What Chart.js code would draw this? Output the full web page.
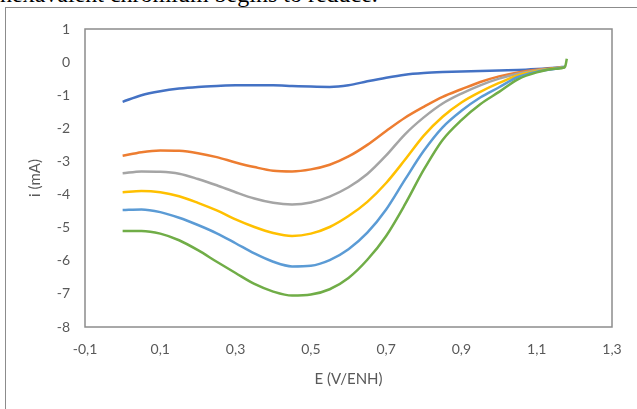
<!DOCTYPE html>
<html>
<head>
<meta charset="utf-8">
<script src="https://cdn.jsdelivr.net/npm/chart.js@4/dist/chart.umd.min.js"></script>
<style>
    body { margin: 0; background: #fff; overflow: hidden; }
    #wrap { position: relative; width: 637px; height: 409px; overflow: hidden; }
    #caption {
        position: absolute; left: 0px; top: -18px;
        font-family: "Liberation Serif", serif; font-size: 24px; line-height: 24px;
        color: #000; white-space: nowrap;
    }
    #frame {
        position: absolute; left: 5px; top: 7px; width: 700px; height: 500px;
        border: 1px solid #8c8c8c;
    }
    canvas { position: absolute; left: 0; top: 0; }
</style>
</head>
<body>
<div id="wrap">
    <div id="caption">hexavalent chromium begins to reduce.</div>
    <div id="frame"></div>
    <canvas id="chart" width="637" height="409"></canvas>
</div>
<script>
// Potential (V/ENH)
const potentials = [0, 0.05, 0.1, 0.15, 0.2, 0.25, 0.3, 0.35, 0.4, 0.45, 0.5, 0.55, 0.6,
    0.65, 0.7, 0.75, 0.8, 0.85, 0.9, 0.95, 1.0, 1.05, 1.1, 1.15, 1.175, 1.18];

// Current (mA) for each curve
const blueCurve = [-1.2, -1.0, -0.88, -0.8, -0.75, -0.72, -0.7, -0.7, -0.7, -0.72, -0.74, -0.75, -0.7,
    -0.58, -0.47, -0.38, -0.33, -0.3, -0.28, -0.27, -0.25, -0.24, -0.21, -0.17, -0.14];
const orangeCurve = [-2.83, -2.72, -2.67, -2.68, -2.75, -2.87, -3.03, -3.17, -3.28, -3.3, -3.24, -3.1, -2.85,
    -2.5, -2.08, -1.68, -1.35, -1.05, -0.82, -0.6, -0.43, -0.31, -0.23, -0.18, -0.15];
const grayCurve = [-3.36, -3.3, -3.31, -3.37, -3.53, -3.72, -3.93, -4.12, -4.25, -4.3, -4.24, -4.06, -3.78,
    -3.38, -2.82, -2.18, -1.67, -1.25, -0.95, -0.7, -0.5, -0.35, -0.25, -0.19, -0.15];
const yellowCurve = [-3.93, -3.89, -3.93, -4.05, -4.25, -4.48, -4.75, -4.98, -5.16, -5.25, -5.18, -4.98, -4.65,
    -4.22, -3.65, -2.95, -2.22, -1.65, -1.22, -0.9, -0.63, -0.4, -0.27, -0.19, -0.15];
const lightBlueCurve = [-4.47, -4.45, -4.53, -4.7, -4.92, -5.17, -5.47, -5.78, -6.03, -6.17, -6.15, -5.98, -5.65,
    -5.15, -4.45, -3.55, -2.68, -1.97, -1.47, -1.07, -0.76, -0.45, -0.29, -0.2, -0.15];
const greenCurve = [-5.1, -5.1, -5.18, -5.38, -5.68, -6.03, -6.37, -6.7, -6.93, -7.05, -7.02, -6.86, -6.52,
    -5.97, -5.25, -4.3, -3.25, -2.35, -1.75, -1.27, -0.9, -0.52, -0.31, -0.2, -0.15, 0.1];

// Axis ticks
const xTicks = [-0.1, 0.1, 0.3, 0.5, 0.7, 0.9, 1.1, 1.3];
const yTicks = [1, 0, -1, -2, -3, -4, -5, -6, -7, -8];

const textColor = '#595959';
const fontFamily = 'Lato, "Open Sans", sans-serif';

function toPoints(values) {
    return values.map((v, i) => ({ x: potentials[i], y: v }));
}

function makeSeries(values, color, order) {
    return {
        data: toPoints(values),
        borderColor: color,
        backgroundColor: color,
        borderWidth: 2.5,
        pointRadius: 0,
        cubicInterpolationMode: 'monotone',
        fill: false,
        order: order
    };
}

// Frame around the plot area
const plotFrame = {
    id: 'plotFrame',
    afterDraw(chart) {
        const a = chart.chartArea;
        const ctx = chart.ctx;
        ctx.save();
        ctx.strokeStyle = '#8c8c8c';
        ctx.lineWidth = 1.5;
        ctx.strokeRect(a.left, a.top, a.right - a.left, a.bottom - a.top);
        ctx.restore();
    }
};

new Chart(document.getElementById('chart'), {
    type: 'line',
    data: {
        datasets: [
            makeSeries(blueCurve, '#4472C4', 5),
            makeSeries(orangeCurve, '#ED7D31', 4),
            makeSeries(grayCurve, '#A5A5A5', 3),
            makeSeries(yellowCurve, '#FFC000', 2),
            makeSeries(lightBlueCurve, '#5B9BD5', 1),
            makeSeries(greenCurve, '#70AD47', 0)
        ]
    },
    options: {
        responsive: false,
        animation: false,
        layout: { padding: { left: 0, top: 29, right: 25, bottom: 0 } },
        plugins: {
            legend: { display: false },
            tooltip: { enabled: false }
        },
        scales: {
            x: {
                type: 'linear',
                min: xTicks[0],
                max: xTicks[xTicks.length - 1],
                grid: { display: false, drawTicks: false },
                border: { display: false },
                afterBuildTicks: axis => { axis.ticks = xTicks.map(v => ({ value: v })); },
                afterFit: axis => { axis.height = 82; },
                ticks: {
                    padding: 14,
                    autoSkip: false,
                    maxRotation: 0,
                    color: textColor,
                    font: { family: fontFamily, size: 14 },
                    callback: v => v.toFixed(1).replace('.', ',')
                },
                title: {
                    display: true,
                    text: 'E (V/ENH)',
                    color: textColor,
                    font: { family: fontFamily, size: 15 },
                    padding: { top: 0, bottom: 21 }
                }
            },
            y: {
                min: yTicks[yTicks.length - 1],
                max: yTicks[0],
                grid: { display: false, drawTicks: false },
                border: { display: false },
                afterBuildTicks: axis => { axis.ticks = yTicks.map(v => ({ value: v })); },
                afterFit: axis => { axis.width = 85; },
                ticks: {
                    padding: 15,
                    autoSkip: false,
                    color: textColor,
                    font: { family: fontFamily, size: 14 },
                    callback: v => String(v)
                },
                title: {
                    display: true,
                    text: 'i (mA)',
                    color: textColor,
                    font: { family: fontFamily, size: 15 },
                    padding: { top: 26, bottom: 0 }
                }
            }
        }
    },
    plugins: [plotFrame]
});
</script>
</body>
</html>
